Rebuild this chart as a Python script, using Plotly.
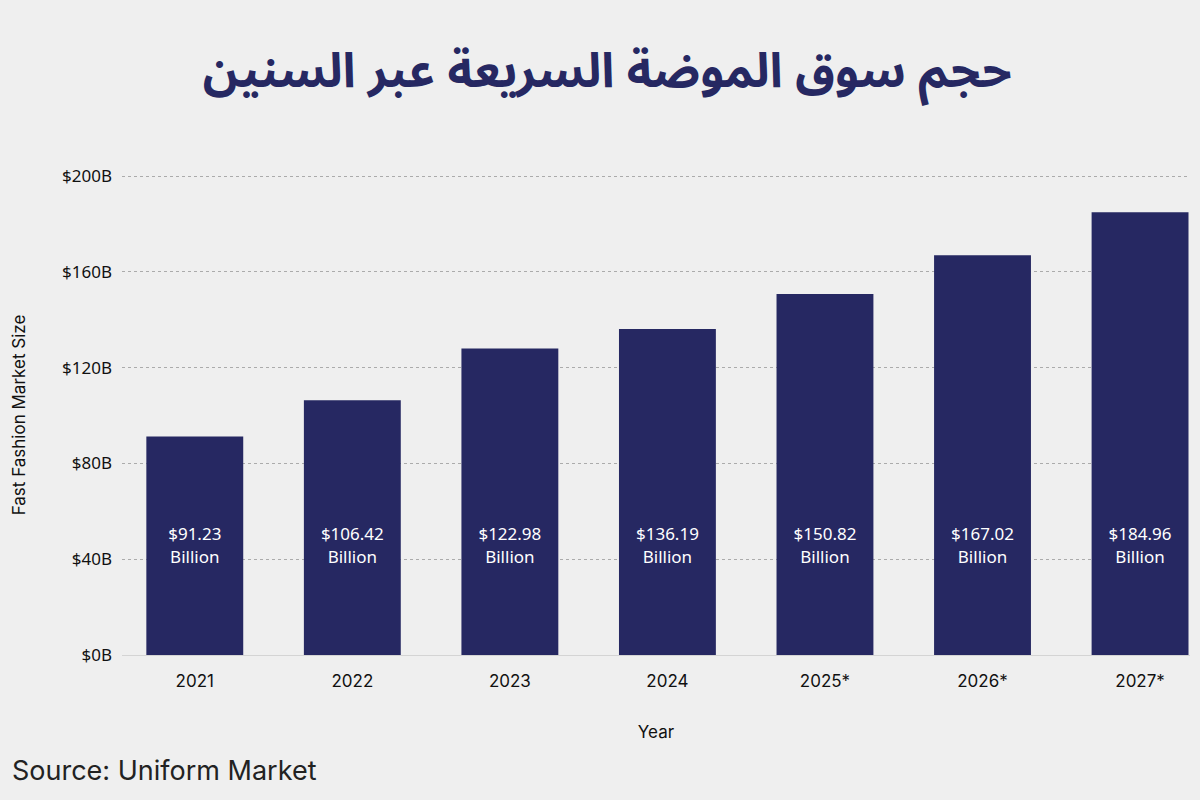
import plotly.graph_objects as go

years = ["2021", "2022", "2023", "2024", "2025*", "2026*", "2027*"]
bar_values = [91.23, 106.42, 128.0, 136.19, 150.82, 167.02, 184.96]
bar_labels = ["$91.23<br>Billion", "$106.42<br>Billion", "$122.98<br>Billion",
              "$136.19<br>Billion", "$150.82<br>Billion", "$167.02<br>Billion",
              "$184.96<br>Billion"]
y_ticks = [0, 40, 80, 120, 160, 200]
y_ticklabels = ["$0B", "$40B", "$80B", "$120B", "$160B", "$200B"]
label_y = 45

BAR = "#262862"
BG = "#efefef"

fig = go.Figure()
fig.add_trace(go.Bar(x=years, y=bar_values, marker=dict(color=BAR, line=dict(width=0)),
                     width=0.615, hoverinfo="skip"))
fig.add_trace(go.Scatter(x=years, y=[label_y] * len(years), mode="text", text=bar_labels,
                         textposition="middle center", hoverinfo="skip",
                         textfont=dict(family="Noto Sans", size=17, color="white")))

fig.update_layout(
    width=1200, height=800,
    paper_bgcolor=BG, plot_bgcolor=BG,
    margin=dict(l=122, r=10, t=175, b=145),
    showlegend=False,
    title=dict(text="<b>حجم سوق الموضة السريعة عبر السنين</b>",
               x=0.506, xanchor="center", y=0.912, yanchor="middle",
               font=dict(family="Noto Sans Arabic, DejaVu Sans, sans-serif", size=48, color=BAR)),
    xaxis=dict(type="category", range=[-0.462, 6.317], showgrid=False, showline=False,
               zeroline=False, ticks="", ticklabelstandoff=14,
               tickfont=dict(family="Inter", size=17, color="#111"),
               title=dict(text="Year", font=dict(family="Inter", size=17, color="#111"), standoff=36)),
    yaxis=dict(range=[0, 200.5], tickvals=y_ticks, ticktext=y_ticklabels,
               showgrid=True, gridcolor="#ababab", griddash="3px,3px", gridwidth=1,
               zeroline=True, zerolinecolor="#d4d4d4", zerolinewidth=1,
               showline=False, ticks="", ticklabelstandoff=9,
               tickfont=dict(family="Noto Sans", size=17, color="#111"),
               title=dict(text="Fast Fashion Market Size",
                          font=dict(family="Inter", size=17, color="#111"), standoff=32)),
)

fig.add_annotation(text="Source: Uniform Market", xref="paper", yref="paper",
                   x=-0.105, y=-0.241, xanchor="left", yanchor="middle", showarrow=False,
                   font=dict(family="Inter", size=27, color="#222"))

fig.write_html("out.html", config={"displayModeBar": False},
               post_script="document.body.style.margin='0';")
